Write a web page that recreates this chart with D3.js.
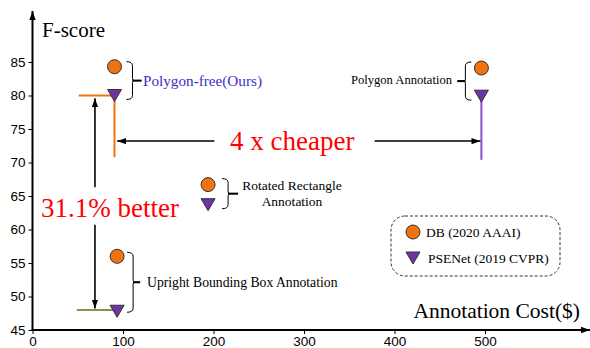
<!DOCTYPE html>
<html>
<head>
<meta charset="utf-8">
<script src="https://cdn.jsdelivr.net/npm/d3@7"></script>
<style>
  body { margin: 0; background: #fff; }
  svg { display: block; }
</style>
</head>
<body>
<div id="chart"></div>
<script>
// Data
const methods = ["Polygon-free(Ours)", "Polygon Annotation", "Rotated Rectangle Annotation", "Upright Bounding Box Annotation"];
const cost = [90.6, 496, 194, 93.5];          // annotation cost ($)
const dbScore = [84.3, 84.1, 66.7, 56.0];     // DB (2020 AAAI)
const pseScore = [80.0, 79.9, 63.7, 47.8];    // PSENet (2019 CVPR)
const xTicks = [0, 100, 200, 300, 400, 500];
const yTicks = [45, 50, 55, 60, 65, 70, 75, 80, 85];

const width = 590, height = 348;
const orange = '#ef7410', purple = '#7032a4';
const serif = 'Liberation Serif, Times New Roman, serif';

const x = d3.scaleLinear().domain([0, 500]).range([32.5, 485]);
const y = d3.scaleLinear().domain([45, 85]).range([330, 62]);

const svg = d3.select('#chart').append('svg')
    .attr('width', width)
    .attr('height', height);

const defs = svg.append('defs');
defs.append('marker')
    .attr('id', 'head')
    .attr('viewBox', '0 0 10 10')
    .attr('refX', 10).attr('refY', 5)
    .attr('markerWidth', 9).attr('markerHeight', 9)
    .attr('markerUnits', 'userSpaceOnUse')
    .attr('orient', 'auto')
    .append('path').attr('d', 'M0,1.5 L10,5 L0,8.5 Z').attr('fill', '#000');

// Axes
const yAxis = svg.append('g')
    .attr('transform', `translate(${x(0)},0)`)
    .call(d3.axisLeft(y).tickValues(yTicks).tickSize(4).tickPadding(3));
const xAxis = svg.append('g')
    .attr('transform', `translate(0,${y(45)})`)
    .call(d3.axisBottom(x).tickValues(xTicks).tickSize(4).tickPadding(2));
[xAxis, yAxis].forEach(a => {
    a.select('.domain').remove();
    a.selectAll('text').style('font-family', 'Liberation Sans, Arial, sans-serif').style('font-size', '13.5px').attr('fill', '#000');
    a.selectAll('line').attr('stroke', '#000');
});

svg.append('line')
    .attr('x1', x(0)).attr('y1', y(45) + 1)
    .attr('x2', x(0)).attr('y2', 11)
    .attr('stroke', '#000').attr('stroke-width', 2)
    .attr('marker-end', 'url(#head)');
svg.append('line')
    .attr('x1', x(0) - 1).attr('y1', y(45))
    .attr('x2', 590).attr('y2', y(45))
    .attr('stroke', '#000').attr('stroke-width', 2)
    .attr('marker-end', 'url(#head)');

svg.append('text')
    .attr('x', 42).attr('y', 37)
    .style('font-family', serif)
    .style('font-size', '21px')
    .text('F-score');
svg.append('text')
    .attr('x', 580).attr('y', 318)
    .attr('text-anchor', 'end')
    .style('font-family', serif)
    .style('font-size', '21.5px')
    .text('Annotation Cost($)');

// Guide lines
const guides = [
    { x1: 51, x2: cost[0], y1: pseScore[0], y2: pseScore[0], color: orange },
    { x1: cost[0], x2: cost[0], y1: pseScore[0], y2: 70.8, color: orange },
    { x1: cost[1], x2: cost[1], y1: pseScore[1], y2: 70.4, color: '#8a4fcf' },
    { x1: 49, x2: cost[3], y1: 48, y2: 48, color: '#7d9a48' }
];
svg.append('g').selectAll('line')
    .data(guides)
    .join('line')
    .attr('x1', d => x(d.x1)).attr('x2', d => x(d.x2))
    .attr('y1', d => y(d.y1)).attr('y2', d => y(d.y2))
    .attr('stroke', d => d.color)
    .attr('stroke-width', 2);

// Arrows (split around the red labels)
const arrows = [
    { x1: 69, y1: 66.3, x2: 69, y2: 79.6 },
    { x1: 69, y1: 60.7, x2: 69, y2: 48.2 },
    { x1: 201, y1: 73.2, x2: 93.5, y2: 73.2 },
    { x1: 378, y1: 73.2, x2: 495, y2: 73.2 }
];
svg.append('g').selectAll('line')
    .data(arrows)
    .join('line')
    .attr('x1', d => x(d.x1)).attr('x2', d => x(d.x2))
    .attr('y1', d => y(d.y1)).attr('y2', d => y(d.y2))
    .attr('stroke', '#000')
    .attr('stroke-width', 1.6)
    .attr('marker-end', 'url(#head)');

svg.append('text')
    .attr('x', 41).attr('y', 217)
    .attr('fill', '#ff0000')
    .style('font-family', serif)
    .style('font-size', '27px')
    .text('31.1% better');
svg.append('text')
    .attr('x', 230).attr('y', 150)
    .attr('fill', '#ff0000')
    .style('font-family', serif)
    .style('font-size', '27px')
    .text('4 x cheaper');

// Curly braces
function brace(xp, y1, y2, dir, tick) {
    // dir = 1: bulges right ("}"), dir = -1: bulges left ("{")
    const w = 6 * dir, r = 4;
    const ym = (y1 + y2) / 2;
    return `M${xp},${y1} Q${xp + w},${y1} ${xp + w},${y1 + r} L${xp + w},${ym - 2} ` +
        `Q${xp + w},${ym} ${xp + w + 2 * dir},${ym} Q${xp + w},${ym} ${xp + w},${ym + 2} ` +
        `L${xp + w},${y2 - r} Q${xp + w},${y2} ${xp},${y2} ` +
        `M${xp + w},${ym} L${xp + w + tick * dir},${ym}`;
}
const braces = [
    { xp: x(cost[0]) + 12, y1: y(dbScore[0]) - 5, y2: y(pseScore[0]) + 4, dir: 1, tick: 9 },
    { xp: x(cost[1]) - 10, y1: y(dbScore[1]) - 6, y2: y(pseScore[1]) + 4, dir: -1, tick: 8 },
    { xp: x(cost[2]) + 14, y1: y(dbScore[2]) - 6, y2: y(pseScore[2]) + 4, dir: 1, tick: 10 },
    { xp: x(cost[3]) + 10, y1: y(dbScore[3]) - 4, y2: y(pseScore[3]) + 1, dir: 1, tick: 7 }
];
svg.append('g').selectAll('path')
    .data(braces)
    .join('path')
    .attr('d', d => brace(d.xp, d.y1, d.y2, d.dir, d.tick))
    .attr('fill', 'none')
    .attr('stroke', '#000')
    .attr('stroke-width', 1);
// thicker middle nub
svg.append('g').selectAll('line')
    .data(braces)
    .join('line')
    .attr('x1', d => d.xp + 6 * d.dir).attr('x2', d => d.xp + (6 + d.tick) * d.dir)
    .attr('y1', d => (d.y1 + d.y2) / 2).attr('y2', d => (d.y1 + d.y2) / 2)
    .attr('stroke', '#000').attr('stroke-width', 2);

// Method labels
svg.append('text')
    .attr('x', 143).attr('y', 86)
    .attr('fill', '#3a2fc6')
    .style('font-family', serif).style('font-size', '15.2px')
    .text(methods[0]);
svg.append('text')
    .attr('x', 452).attr('y', 84)
    .attr('text-anchor', 'end')
    .style('font-family', serif).style('font-size', '12.6px')
    .text(methods[1]);
const rot = svg.append('text')
    .attr('text-anchor', 'middle')
    .style('font-family', serif).style('font-size', '13.5px');
rot.append('tspan').attr('x', 292).attr('y', 190).text('Rotated Rectangle');
rot.append('tspan').attr('x', 292).attr('y', 206).text('Annotation');
svg.append('text')
    .attr('x', 147).attr('y', 287)
    .style('font-family', serif).style('font-size', '13.7px')
    .text(methods[3]);

// Markers
const tri = 'M-7,-6 L7,-6 L0,6 Z';
svg.append('g').selectAll('circle')
    .data(cost)
    .join('circle')
    .attr('cx', d => x(d))
    .attr('cy', (d, i) => y(dbScore[i]))
    .attr('r', 7)
    .attr('fill', orange)
    .attr('stroke', '#333')
    .attr('stroke-width', 1);
svg.append('g').selectAll('path')
    .data(cost)
    .join('path')
    .attr('transform', (d, i) => `translate(${x(d)},${y(pseScore[i])})`)
    .attr('d', tri)
    .attr('fill', purple)
    .attr('stroke', '#333')
    .attr('stroke-width', 1);

// Legend
const legend = svg.append('g');
legend.append('rect')
    .attr('x', 391).attr('y', 216)
    .attr('width', 169).attr('height', 60)
    .attr('rx', 14)
    .attr('fill', 'none')
    .attr('stroke', '#333')
    .attr('stroke-dasharray', '3,2');
legend.append('circle')
    .attr('cx', 413).attr('cy', 232).attr('r', 7)
    .attr('fill', orange).attr('stroke', '#333');
legend.append('path')
    .attr('transform', 'translate(413,258)')
    .attr('d', tri)
    .attr('fill', purple).attr('stroke', '#333');
legend.append('text')
    .attr('x', 426).attr('y', 237)
    .style('font-family', serif).style('font-size', '13.5px')
    .text('DB (2020 AAAI)');
legend.append('text')
    .attr('x', 428).attr('y', 263)
    .style('font-family', serif).style('font-size', '13.5px')
    .text('PSENet (2019 CVPR)');
</script>
</body>
</html>
